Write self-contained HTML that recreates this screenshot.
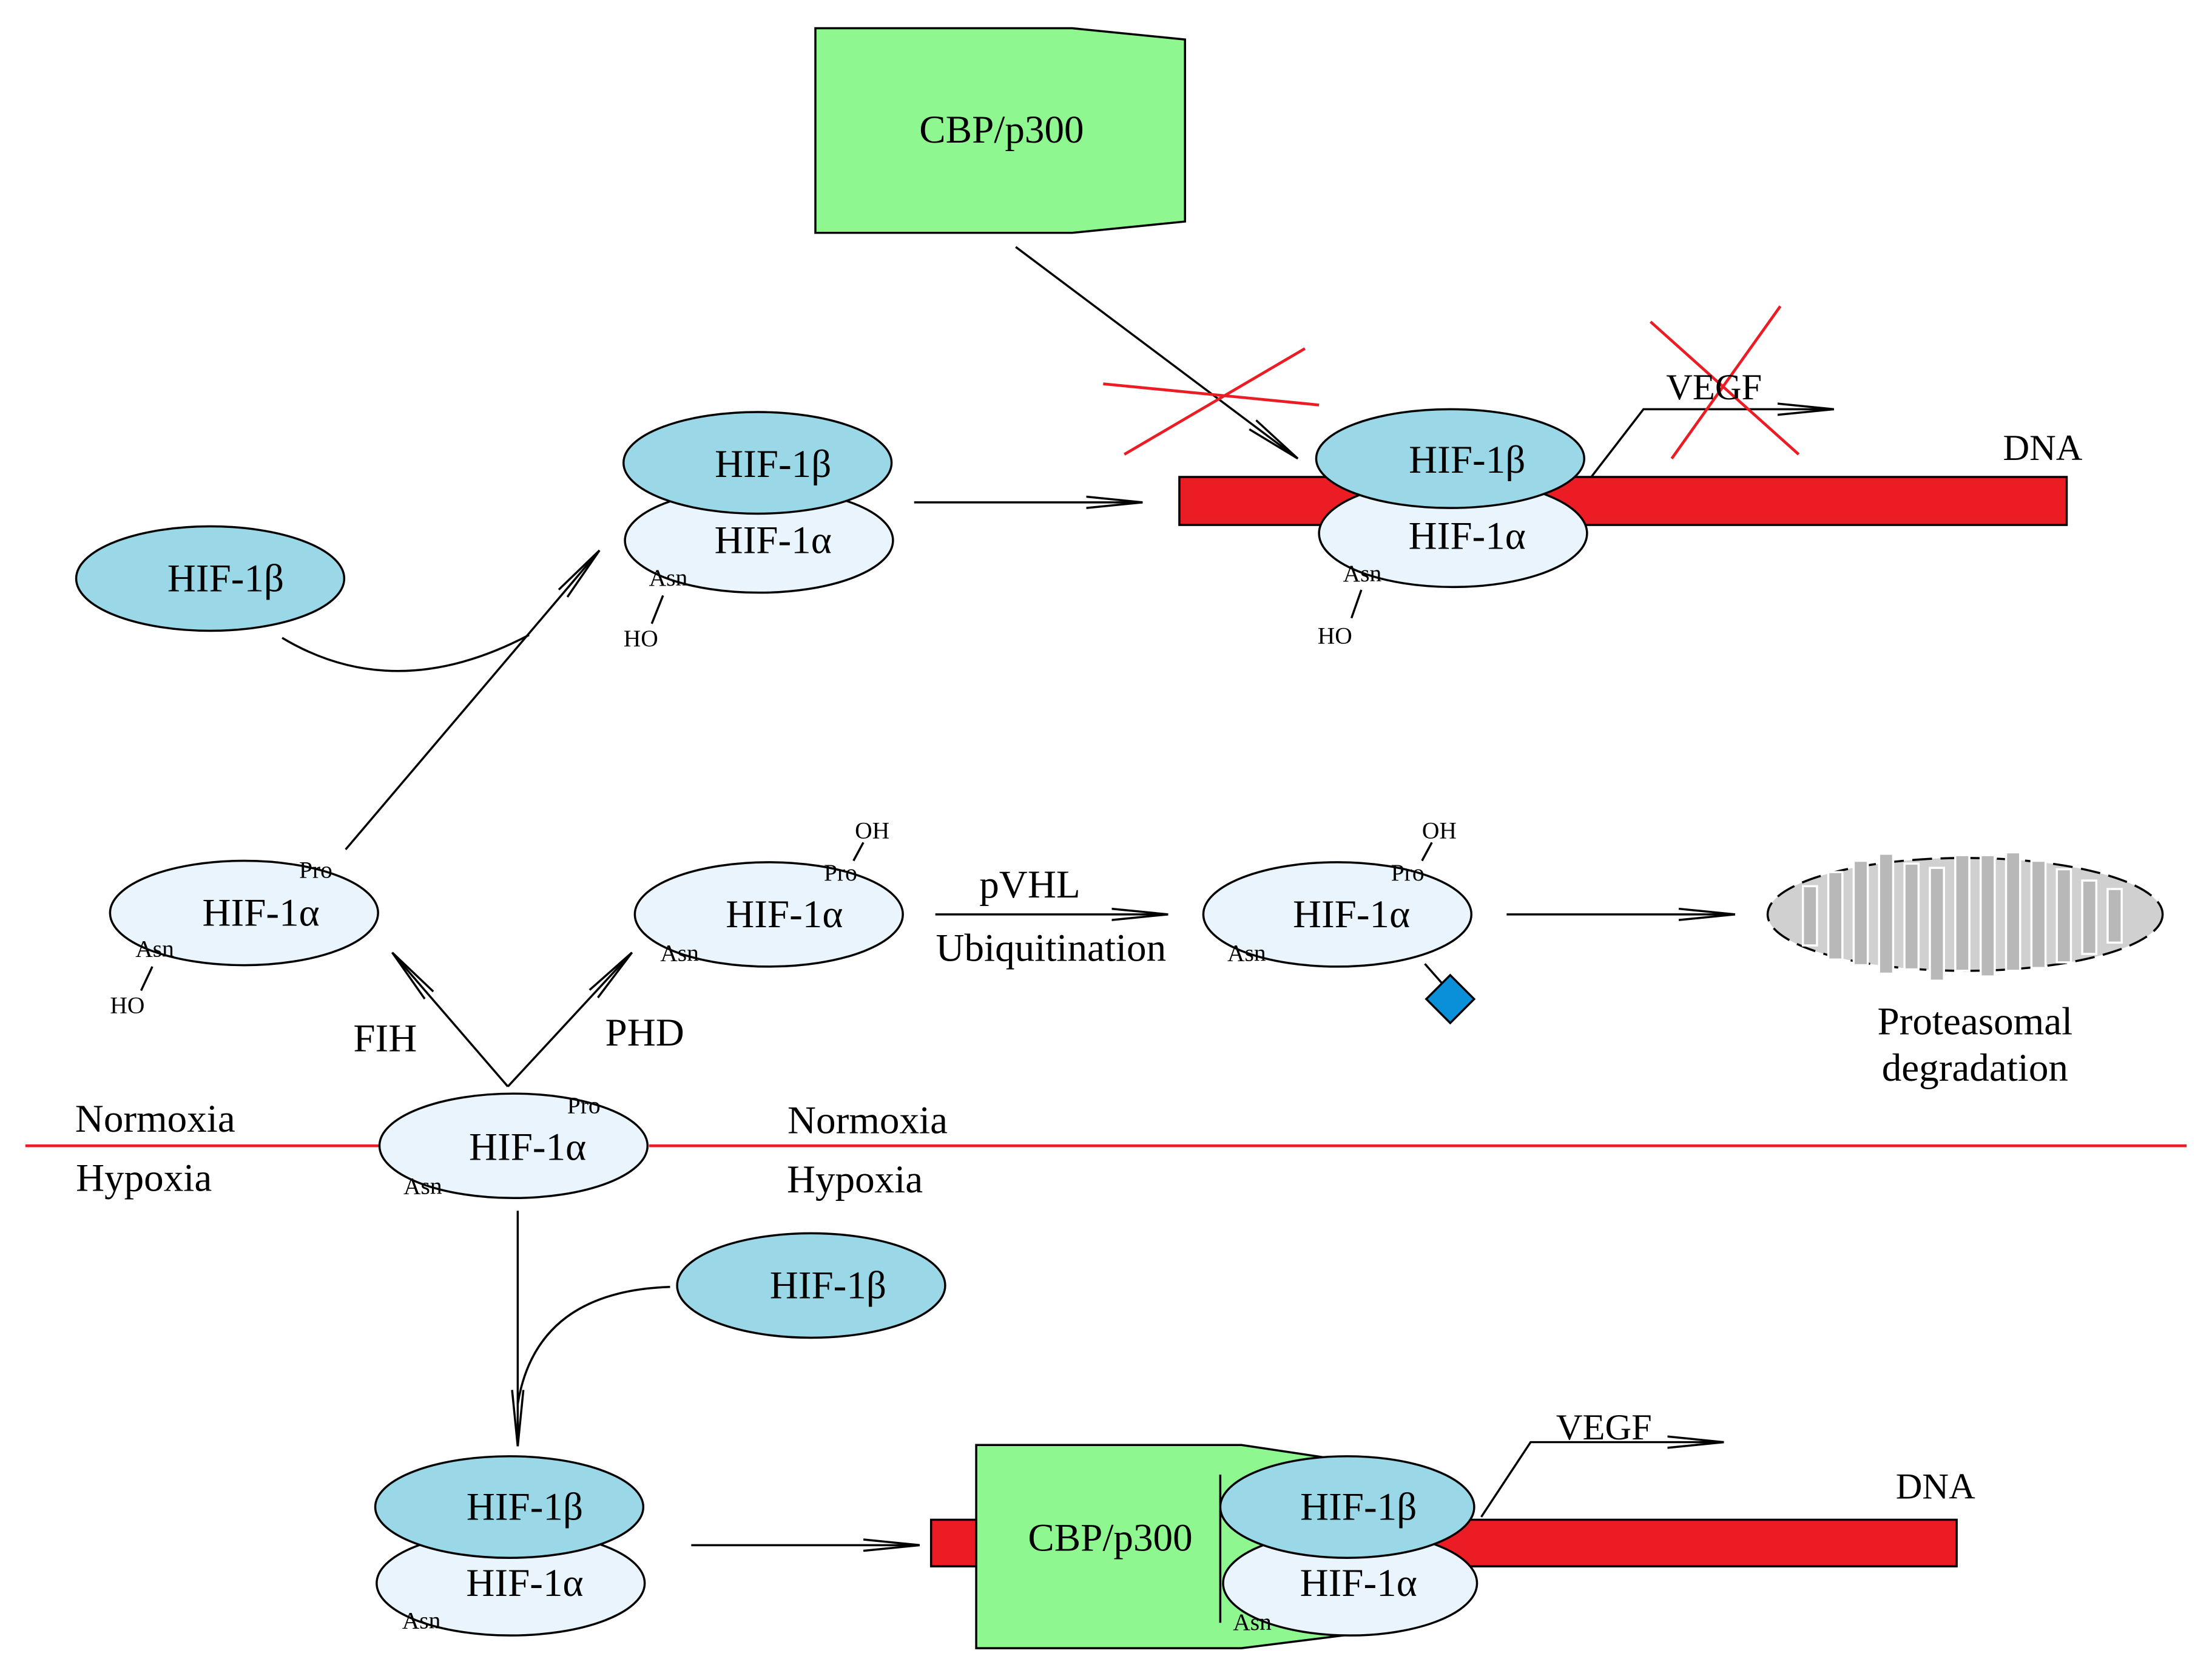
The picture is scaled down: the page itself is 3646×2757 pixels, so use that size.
<!DOCTYPE html>
<html><head><meta charset="utf-8"><style>
html,body{margin:0;padding:0;background:#fff}
svg{display:block}
text{font-family:"Liberation Serif",serif;fill:#000}
.b{font-size:28px;text-anchor:middle}
.s{font-size:17px}
</style></head><body>
<svg width="3646" height="2757" viewBox="0 0 1568 1185.6" preserveAspectRatio="none" xmlns="http://www.w3.org/2000/svg">
<defs>
<marker id="a" markerWidth="40" markerHeight="12" refX="40" refY="6" orient="auto" markerUnits="userSpaceOnUse">
<path d="M0,2 L40,6 L0,10" fill="none" stroke="#000" stroke-width="1.5"/>
</marker>
</defs>
<g stroke="#000" stroke-width="1.5">
<polygon points="578,20 760,20 840,28 840,157 760,165 578,165" fill="#8ff78f"/>
<line x1="720" y1="175" x2="920" y2="325" marker-end="url(#a)"/>
<rect x="836" y="338" width="629" height="34" fill="#ec1c24"/>
<ellipse cx="1030" cy="378" rx="95" ry="38" fill="#e9f4fc"/>
<ellipse cx="1028" cy="325" rx="95" ry="35" fill="#9ad8e8"/>
<polyline points="1128,338 1165,290 1300,290" fill="none" marker-end="url(#a)"/>
<line x1="965" y1="418" x2="958" y2="438"/>
<ellipse cx="538" cy="383" rx="95" ry="37" fill="#e9f4fc"/>
<ellipse cx="537" cy="328" rx="95" ry="36" fill="#9ad8e8"/>
<line x1="470" y1="422" x2="462" y2="442"/>
<line x1="648" y1="356" x2="810" y2="356" marker-end="url(#a)"/>
<ellipse cx="149" cy="410" rx="95" ry="37" fill="#9ad8e8"/>
<path d="M200,452 Q280,500 375,450" fill="none"/>
<line x1="245" y1="602" x2="425" y2="390" marker-end="url(#a)"/>
<ellipse cx="173" cy="647" rx="95" ry="37" fill="#e9f4fc"/>
<line x1="108" y1="685" x2="100" y2="702"/>
<ellipse cx="545" cy="648" rx="95" ry="37" fill="#e9f4fc"/>
<line x1="612" y1="597" x2="605" y2="610"/>
<ellipse cx="948" cy="648" rx="95" ry="37" fill="#e9f4fc"/>
<line x1="1015" y1="597" x2="1008" y2="610"/>
<line x1="1010" y1="683" x2="1025" y2="700"/>
<rect x="1016" y="696" width="24" height="24" fill="#0a90d8" transform="rotate(45 1028 708)"/>
<line x1="360" y1="770" x2="278" y2="675" marker-end="url(#a)"/>
<line x1="360" y1="770" x2="448" y2="675" marker-end="url(#a)"/>
<line x1="663" y1="648" x2="828" y2="648" marker-end="url(#a)"/>
<line x1="1068" y1="648" x2="1230" y2="648" marker-end="url(#a)"/>
<ellipse cx="1393" cy="648" rx="140" ry="40" fill="#d0d0d0" stroke-dasharray="14,6"/>
</g>
<g fill="#b8b8b8" stroke="#fff" stroke-width="1.5">
<rect x="1278" y="628" width="10" height="42"/><rect x="1296" y="618" width="10" height="62"/>
<rect x="1314" y="610" width="10" height="74"/><rect x="1332" y="605" width="10" height="85"/>
<rect x="1350" y="612" width="10" height="75"/><rect x="1368" y="615" width="10" height="80"/>
<rect x="1386" y="606" width="10" height="82"/><rect x="1404" y="606" width="10" height="86"/>
<rect x="1422" y="604" width="10" height="84"/><rect x="1440" y="610" width="10" height="76"/>
<rect x="1458" y="616" width="10" height="66"/><rect x="1476" y="624" width="10" height="52"/>
<rect x="1494" y="630" width="10" height="38"/>
</g>
<g stroke="#ec1c24" stroke-width="2">
<line x1="18" y1="812" x2="270" y2="812"/>
<line x1="460" y1="812" x2="1550" y2="812"/>
<line x1="782" y1="272" x2="935" y2="287"/><line x1="797" y1="322" x2="925" y2="247"/>
<line x1="1170" y1="228" x2="1275" y2="322"/><line x1="1185" y1="325" x2="1262" y2="217"/>
</g>
<g stroke="#000" stroke-width="1.5">
<ellipse cx="364" cy="812" rx="95" ry="37" fill="#e9f4fc"/>
<line x1="367" y1="858" x2="367" y2="1025" marker-end="url(#a)"/>
<path d="M475,912 Q380,915 367,995" fill="none"/>
<ellipse cx="575" cy="911" rx="95" ry="37" fill="#9ad8e8"/>
<ellipse cx="362" cy="1122" rx="95" ry="37" fill="#e9f4fc"/>
<ellipse cx="361" cy="1068" rx="95" ry="36" fill="#9ad8e8"/>
<line x1="490" y1="1095" x2="652" y2="1095" marker-end="url(#a)"/>
<rect x="660" y="1077" width="727" height="33" fill="#ec1c24"/>
<polygon points="692,1024 880,1024 960,1036 960,1158 880,1168 692,1168" fill="#8ff78f"/>
<ellipse cx="957" cy="1122" rx="90" ry="37" fill="#e9f4fc"/>
<ellipse cx="955" cy="1068" rx="90" ry="36" fill="#9ad8e8"/>
<rect x="693" y="1030" width="172" height="136" fill="#8ff78f" stroke="none"/>
<line x1="865" y1="1045" x2="865" y2="1150"/>
<polyline points="1050,1075 1085,1022 1222,1022" fill="none" marker-end="url(#a)"/>
</g>
<text class="b" x="710" y="101">CBP/p300</text>
<text class="b" x="1040" y="335">HIF-1β</text>
<text class="b" x="1040" y="389">HIF-1α</text>
<text class="b" x="1215" y="283" style="font-size:26px">VEGF</text>
<text class="b" x="1448" y="326" style="font-size:26px">DNA</text>
<text class="s" x="952" y="412">Asn</text><text class="s" x="934" y="456">HO</text>
<text class="b" x="548" y="338">HIF-1β</text>
<text class="b" x="548" y="392">HIF-1α</text>
<text class="s" x="460" y="415">Asn</text><text class="s" x="442" y="458">HO</text>
<text class="b" x="160" y="419">HIF-1β</text>
<text class="b" x="185" y="656">HIF-1α</text>
<text class="s" x="212" y="622">Pro</text><text class="s" x="96" y="678">Asn</text><text class="s" x="78" y="718">HO</text>
<text class="b" x="556" y="657">HIF-1α</text>
<text class="s" x="606" y="594">OH</text><text class="s" x="584" y="624">Pro</text><text class="s" x="468" y="681">Asn</text>
<text class="b" x="958" y="657">HIF-1α</text>
<text class="s" x="1008" y="594">OH</text><text class="s" x="986" y="624">Pro</text><text class="s" x="870" y="681">Asn</text>
<text class="b" x="730" y="636">pVHL</text>
<text class="b" x="745" y="681">Ubiquitination</text>
<text class="b" x="1400" y="733">Proteasomal</text>
<text class="b" x="1400" y="766">degradation</text>
<text class="b" x="273" y="745">FIH</text><text class="b" x="457" y="741">PHD</text>
<text class="b" x="110" y="802">Normoxia</text><text class="b" x="102" y="844">Hypoxia</text>
<text class="b" x="615" y="803">Normoxia</text><text class="b" x="606" y="845">Hypoxia</text>
<text class="b" x="374" y="822">HIF-1α</text>
<text class="s" x="402" y="789">Pro</text><text class="s" x="286" y="846">Asn</text>
<text class="b" x="587" y="920">HIF-1β</text>
<text class="b" x="372" y="1077">HIF-1β</text>
<text class="b" x="372" y="1131">HIF-1α</text>
<text class="s" x="285" y="1154">Asn</text>
<text class="b" x="787" y="1099">CBP/p300</text>
<text class="b" x="963" y="1077">HIF-1β</text>
<text class="b" x="963" y="1131">HIF-1α</text>
<text class="s" x="874" y="1155">Asn</text>
<text class="b" x="1137" y="1020" style="font-size:26px">VEGF</text>
<text class="b" x="1372" y="1062" style="font-size:26px">DNA</text>
</svg>
</body></html>
